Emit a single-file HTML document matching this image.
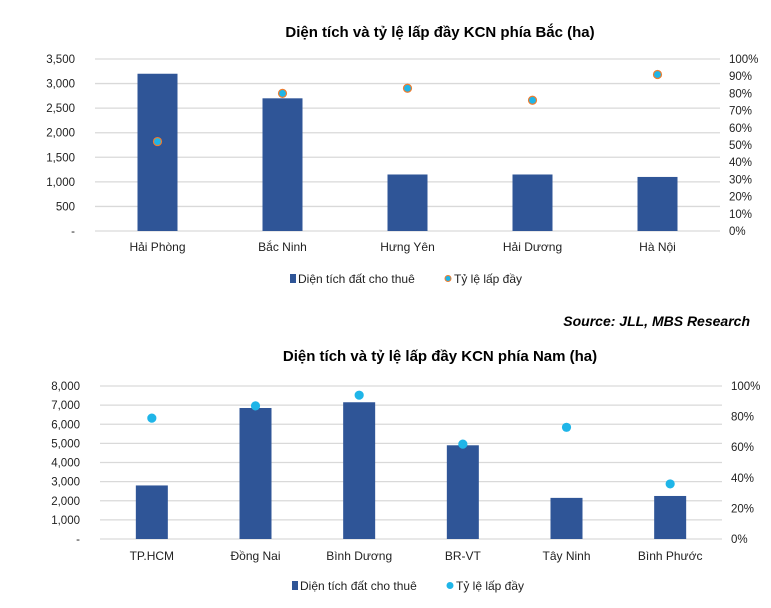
<!DOCTYPE html>
<html><head><meta charset="utf-8"><style>
body{margin:0;background:#fff;width:771px;height:603px;overflow:hidden;font-family:"Liberation Sans",sans-serif}
svg text{font-family:"Liberation Sans",sans-serif}
</style></head><body>
<svg id="svg" width="771" height="603" xmlns="http://www.w3.org/2000/svg">
<text x="440" y="37" text-anchor="middle" font-size="15" font-weight="bold" fill="#000">Diện tích và tỷ lệ lấp đầy KCN phía Bắc (ha)</text>
<text x="750" y="326" text-anchor="end" font-size="14" font-weight="bold" font-style="italic" fill="#000">Source:  JLL, MBS Research</text>
<text x="440" y="361" text-anchor="middle" font-size="15" font-weight="bold" fill="#000">Diện tích và tỷ lệ lấp đầy KCN phía Nam (ha)</text>
</svg>
<script>
const northCats=["Hải Phòng","Bắc Ninh","Hưng Yên","Hải Dương","Hà Nội"];
const northArea=[3200,2700,1150,1150,1100];
const northRate=[52,80,83,76,91];
const northLeftTicks=[0,500,1000,1500,2000,2500,3000,3500];
const northRightTicks=[0,10,20,30,40,50,60,70,80,90,100];
const southCats=["TP.HCM","Đồng Nai","Bình Dương","BR-VT","Tây Ninh","Bình Phước"];
const southArea=[2800,6850,7150,4900,2150,2250];
const southRate=[79,87,94,62,73,36];
const southLeftTicks=[0,1000,2000,3000,4000,5000,6000,7000,8000];
const southRightTicks=[0,20,40,60,80,100];

const svg=document.getElementById('svg');
const NS="http://www.w3.org/2000/svg";
function mk(tag,attrs,parent){const e=document.createElementNS(NS,tag);for(const k in attrs)e.setAttribute(k,attrs[k]);(parent||svg).appendChild(e);return e;}
const fmt=v=>v===0?"-":v.toLocaleString('en-US');

function chart(prefix,cfg){
  const g=mk('g',{});
  
  
  const {x0,x1,yTop,yBot,cats,area,rate,lt,rt,lmax,bw,dotFill,dotStroke,labY,legY,legX}=cfg;
  const y=v=>yBot-(v/lmax)*(yBot-yTop);
  const yr=v=>yBot-(v/100)*(yBot-yTop);
  const step=(x1-x0)/cats.length;
  const xc=i=>x0+step*(i+0.5);
  lt.forEach(t=>{
    const l=mk('line',{x1:x0,x2:x1,y1:y(t),y2:y(t),stroke:'#d9d9d9','stroke-width':1.3},g);
    
    
    const tx=mk('text',{x:x0-20,y:y(t)+4,'text-anchor':'end','font-size':11.5,fill:'#222'},g);
    tx.textContent=fmt(t);
    
    
  });
  rt.forEach(t=>{
    const tx=mk('text',{x:x1+9,y:yr(t)+4,'font-size':11.5,fill:'#222'},g);
    tx.textContent=t+'%';
    
    
  });
  cats.forEach((c,i)=>{
    const r=mk('rect',{x:xc(i)-bw/2,y:y(area[i]),width:bw,height:yBot-y(area[i]),fill:'#2F5597'},g);
    
    
    const d=mk('circle',{cx:xc(i),cy:yr(rate[i]),r:4,fill:dotFill,stroke:dotStroke,'stroke-width':1.2},g);
    
    
    const tx=mk('text',{x:xc(i),y:labY,'text-anchor':'middle','font-size':12,fill:'#222'},g);
    tx.textContent=c;
    
    
  });
  const lr=mk('rect',{x:legX,y:legY-9,width:6,height:9,fill:'#2F5597'},g);
  
  
  const l1=mk('text',{x:legX+8,y:legY,'font-size':12,fill:'#222'},g);
  l1.textContent='Diện tích đất cho thuê';
  
  
  const lc=mk('circle',{cx:legX+158,cy:legY-4.5,r:3,fill:dotFill,stroke:dotStroke,'stroke-width':1},g);
  
  
  const l2=mk('text',{x:legX+164,y:legY,'font-size':12,fill:'#222'},g);
  l2.textContent='Tỷ lệ lấp đầy';
  
  
}
chart('north',{x0:95,x1:720,yTop:59,yBot:231,cats:northCats,area:northArea,rate:northRate,lt:northLeftTicks,rt:northRightTicks,lmax:3500,bw:40,dotFill:'#1FB5E8',dotStroke:'#ED7D31',labY:251,legY:283,legX:290});
chart('south',{x0:100,x1:722,yTop:386,yBot:539,cats:southCats,area:southArea,rate:southRate,lt:southLeftTicks,rt:southRightTicks,lmax:8000,bw:32,dotFill:'#1FB5E8',dotStroke:'#1FB5E8',labY:560,legY:590,legX:292});
</script>
</body></html>
